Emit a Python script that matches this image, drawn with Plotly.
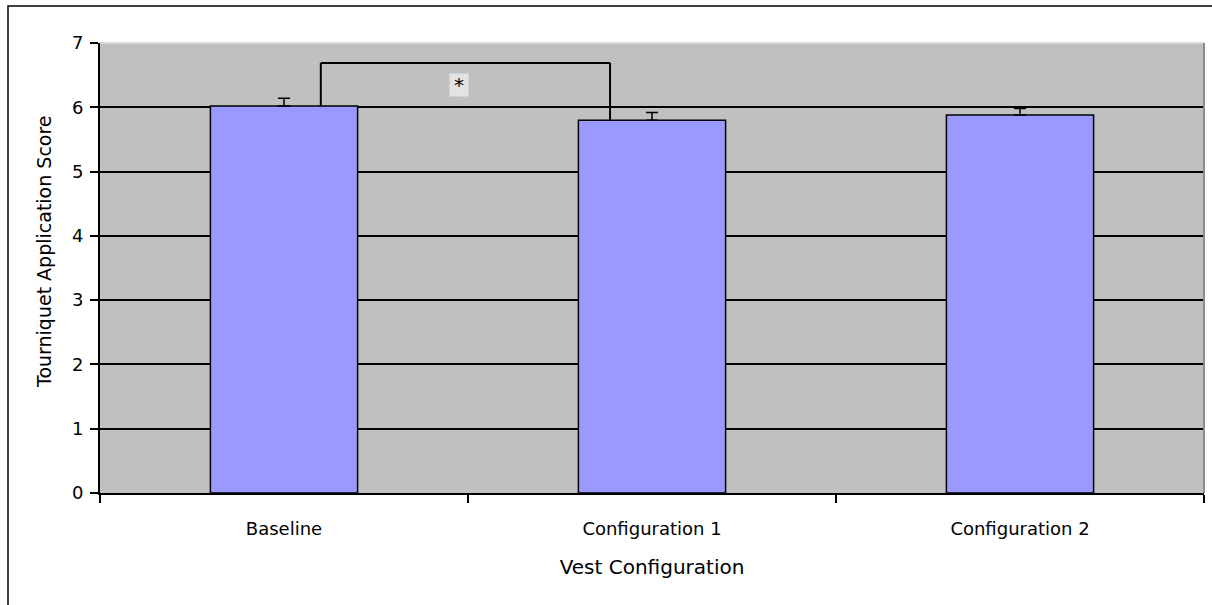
import plotly.graph_objects as go

# ---- data ----
categories = ["Baseline", "Configuration 1", "Configuration 2"]
means = [6.02, 5.80, 5.88]
errors_plus = [0.12, 0.12, 0.10]
errors_minus = [0, 0, 0]
y_ticks = [0, 1, 2, 3, 4, 5, 6, 7]
sig_pair = [0, 1]          # categories compared by the bracket
sig_height = 6.69          # bracket top
sig_label = "*"
sig_label_y = 6.35
x_title = "Vest Configuration"
y_title = "Tourniquet Application Score"

FONT = "DejaVu Sans"

fig = go.Figure()
fig.add_trace(go.Bar(
    x=categories, y=means,
    marker=dict(color="#9999FF", line=dict(color="black", width=1.5)),
    width=0.4,
    error_y=dict(type="data", array=errors_plus, arrayminus=errors_minus,
                 color="black", thickness=1.5, width=6, symmetric=False),
    showlegend=False,
))

# significance bracket
left_x = sig_pair[0] + 0.10
right_x = sig_pair[1] - 0.114
line_style = dict(color="black", width=2)
fig.add_shape(type="line", xref="x", yref="y", x0=left_x, x1=left_x,
              y0=means[sig_pair[0]], y1=sig_height, line=line_style)
fig.add_shape(type="line", xref="x", yref="y", x0=left_x, x1=right_x,
              y0=sig_height, y1=sig_height, line=line_style)
fig.add_shape(type="line", xref="x", yref="y", x0=right_x, x1=right_x,
              y0=sig_height, y1=means[sig_pair[1]], line=line_style)
fig.add_annotation(x=(sig_pair[0] + sig_pair[1]) / 2 - 0.024, y=sig_label_y,
                   xref="x", yref="y", text=sig_label, showarrow=False,
                   font=dict(family=FONT, size=20, color="black"),
                   bgcolor="#E3E3E3", width=16, height=20, borderpad=1)

# y-axis title
fig.add_annotation(xref="paper", yref="paper", x=(44 - 100) / 1104, y=(493 - 252) / 450,
                   xanchor="center", yanchor="middle", textangle=-90,
                   text=y_title, showarrow=False,
                   font=dict(family=FONT, size=19, color="black"))

# plot-area edges (top light, right darker gray)
fig.add_shape(type="line", xref="paper", yref="paper", x0=0, x1=1, y0=1, y1=1,
              line=dict(color="#DADADA", width=2), layer="above")
fig.add_shape(type="line", xref="paper", yref="paper", x0=1, x1=1, y0=0, y1=1,
              line=dict(color="#8C8C8C", width=2), layer="above")

# outer chart frame
fig.add_shape(type="rect", xref="paper", yref="paper",
              x0=-92 / 1104, x1=1.02, y0=-0.3, y1=487 / 450,
              line=dict(color="black", width=1.5), fillcolor="rgba(0,0,0,0)")

fig.update_layout(
    width=1212, height=605,
    margin=dict(l=100, r=8, t=43, b=112),
    paper_bgcolor="white", plot_bgcolor="#C0C0C0",
    bargap=0.6,
    font=dict(family=FONT, color="black"),
)
fig.update_xaxes(
    type="category", tickson="boundaries", ticks="outside", ticklen=8,
    tickcolor="black", tickwidth=1.5,
    showline=True, linecolor="black", linewidth=2,
    showgrid=False, tickfont=dict(family=FONT, size=18),
    ticklabelstandoff=18,
    title=dict(text=x_title, font=dict(family=FONT, size=20), standoff=22),
)
fig.update_yaxes(
    range=[0, 7], tickvals=y_ticks, ticks="outside", ticklen=8,
    tickcolor="black", tickwidth=1.5,
    showline=True, linecolor="black", linewidth=2,
    showgrid=True, gridcolor="black", gridwidth=1.5, zeroline=False,
    tickfont=dict(family=FONT, size=18),
    ticklabelstandoff=3,
)

fig.write_html("out.html", config={"displayModeBar": False},
               post_script="document.body.style.margin='0';")
